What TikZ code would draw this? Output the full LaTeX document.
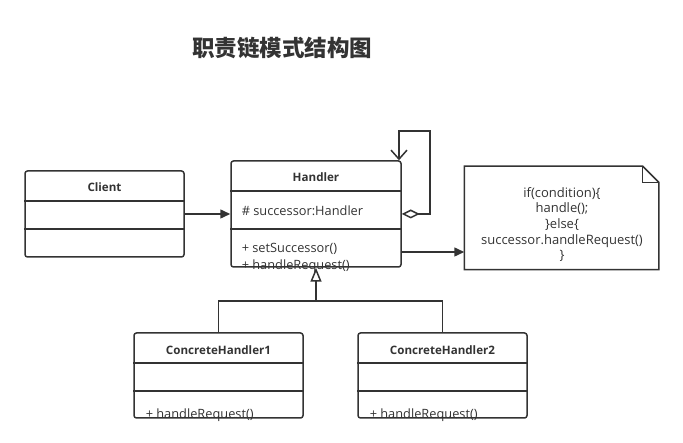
\documentclass[tikz,border=0pt]{standalone}
\usepackage{fontspec}
\setmainfont{Open Sans}
\newfontfamily\cjk{Noto Sans CJK SC}
\usetikzlibrary{arrows.meta,positioning}
\definecolor{ink}{HTML}{333333}

\begin{document}
\begin{tikzpicture}[x=1pt,y=-1pt,line width=1.5pt,
	cls/.style={draw=ink,rounded corners=2.5pt,inner sep=0pt},
	clsname/.style={font=\bfseries\fontsize{11.6}{13}\selectfont,text=ink},
	member/.style={font=\fontsize{12.8}{14}\selectfont,text=ink,anchor=west,inner sep=0pt},
	notetext/.style={font=\fontsize{13}{15.7}\selectfont,text=ink,align=center}]
\useasboundingbox (0,0) rectangle (683,443);

\node[font=\cjk\bfseries\fontsize{22.5}{24}\selectfont,text=ink]   (title)  at (282,48)  {职责链模式结构图};

\node[cls,minimum width=159pt,minimum height=86pt]   (client)    at (104.5,214)   {};
\node[cls,minimum width=170pt,minimum height=106pt]  (handler)   at (316,214)     {};
\node[cls,minimum width=169pt,minimum height=85pt]   (ch1)       at (218.5,375.5) {};
\node[cls,minimum width=169pt,minimum height=85pt]   (ch2)       at (442.5,375.5) {};
\node[minimum width=193pt,minimum height=102pt,inner sep=0pt] (note) at (561.5,218) {};

\draw[ink] (note.north west) -- ([xshift=-16pt]note.north east) -- ([yshift=-16pt]note.north east)
	-- (note.south east) -- (note.south west) -- cycle;
\draw[ink,line width=1pt] ([xshift=-16pt]note.north east) |- ([yshift=-16pt]note.north east);

\draw[ink] (client.west |- 0,201) -- (client.east |- 0,201)
		(client.west |- 0,229) -- (client.east |- 0,229)
		(handler.west |- 0,191) -- (handler.east |- 0,191)
		(handler.west |- 0,229) -- (handler.east |- 0,229)
		(ch1.west |- 0,363) -- (ch1.east |- 0,363)
		(ch1.west |- 0,391) -- (ch1.east |- 0,391)
		(ch2.west |- 0,363) -- (ch2.east |- 0,363)
		(ch2.west |- 0,391) -- (ch2.east |- 0,391);

\node[clsname] (clientname)  at (104.5,187)  {Client};
\node[clsname] (handlername) at (316,177)    {Handler};
\node[clsname] (ch1name)     at (218.5,350)  {ConcreteHandler1};
\node[clsname] (ch2name)     at (442.5,350)  {ConcreteHandler2};

\node[member] (succ)   at (241,211) {\# successor:Handler};
\node[member] (setsucc) at (241,249) {+ setSuccessor()};
\node[member] (hreq)   at (241,266) {+ handleRequest()};
\node[member] (hreq1)  at (145,415) {+ handleRequest()};
\node[member] (hreq2)  at (369,415) {+ handleRequest()};

\node[notetext] (code) at (562,224.5) {if(condition)\{\\handle();\\\}else\{\\successor.handleRequest()\\\}};

\draw[ink,-{Triangle[length=10pt,width=9pt]}] (client) -- (handler);
\draw[ink,-{Triangle[length=10pt,width=9pt]}] (handler.east |- 0,252) -- (note.west |- 0,252);
\draw[ink,{Diamond[open,length=18pt,width=9pt]}-{Straight Barb[length=9pt,width=16pt]}]
	(handler.east |- 0,214) -- (430,214) -- (430,131) -- (399,131) -- (handler.north -| 399,0);
\draw[ink,-{Triangle[open,length=14pt,width=11pt]}] (ch1.north) |- (316,301) -- (handler.south);
\draw[ink] (ch2.north) |- (316,301);
\end{tikzpicture}
\end{document}
